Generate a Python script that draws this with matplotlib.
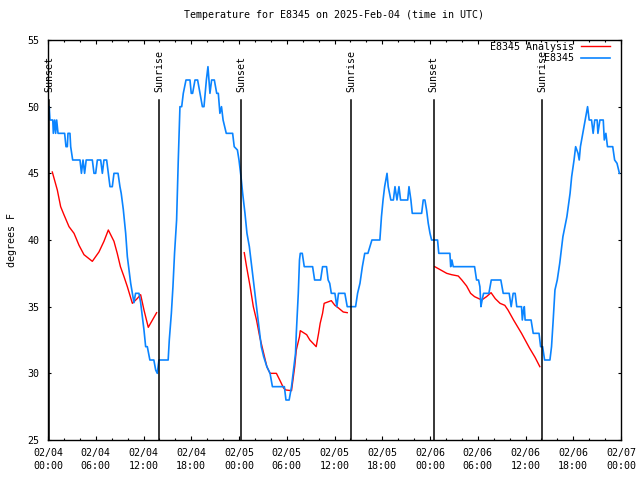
import numpy as np
import matplotlib
matplotlib.use("Agg")
import matplotlib.pyplot as plt
from matplotlib.ticker import MultipleLocator
import matplotlib.transforms as mtransforms

# ---- data (hours since 2025-02-04 00:00 UTC) ----
blue_hours = [0.0, 0.15, 0.25, 0.6, 0.67, 0.84, 0.96, 1.09, 1.26, 2.09, 2.26, 2.43, 2.51, 2.76, 2.85,
              3.1, 3.27, 4.02, 4.2, 4.4, 4.6, 4.8, 5.57, 5.78, 5.99, 6.2, 6.62, 6.83, 7.03, 7.37,
              7.58, 7.79, 8.08, 8.29, 8.8, 9.04, 9.2, 9.46, 9.76, 9.97, 10.18, 10.39, 10.6, 10.8,
              11.0, 11.43, 11.64, 11.85, 12.06, 12.27, 12.48, 12.8, 13.3, 13.53, 13.73, 13.94,
              15.1, 15.24, 15.5, 15.7, 15.9, 16.16, 16.37, 16.58, 16.8, 17.0, 17.34, 17.84, 18.0,
              18.17, 18.47, 18.8, 19.1, 19.4, 19.6, 19.9, 20.1, 20.35, 20.56, 20.9, 21.2, 21.4,
              21.6, 21.8, 22.0, 22.4, 23.2, 23.4, 23.8, 24.0, 24.25, 24.46, 24.75, 25.0, 25.3,
              25.6, 25.9, 26.2, 26.5, 26.8, 27.1, 27.5, 27.9, 28.2, 29.7, 29.9, 30.3, 30.6, 30.9,
              31.1, 31.2, 31.45, 31.6, 31.7, 31.95, 32.2, 33.25, 33.5, 34.25, 34.5, 35.0, 35.2,
              35.4, 35.6, 36.05, 36.3, 36.5, 37.3, 37.6, 38.65, 38.9, 39.2, 39.5, 39.8, 40.2,
              40.7, 41.7, 41.9, 42.1, 42.3, 42.6, 42.75, 43.08, 43.4, 43.6, 43.85, 44.1, 44.3,
              45.2, 45.36, 45.6, 45.77, 46.95, 47.15, 47.36, 47.57, 47.78, 48.0, 48.2, 48.95,
              49.1, 50.5, 50.6, 50.75, 50.92, 53.6, 53.85, 54.1, 54.27, 54.4, 54.55, 54.73, 55.4,
              55.7, 56.9, 57.2, 57.95, 58.2, 58.45, 58.7, 58.9, 59.5, 59.6, 59.75, 59.85, 59.95,
              60.7, 60.97, 61.7, 61.9, 62.15, 62.4, 63.07, 63.27, 63.48, 63.7, 63.99, 64.3, 64.7,
              65.2, 65.6, 65.8, 66.1, 66.3, 66.6, 66.75, 66.9, 67.2, 67.5, 67.8, 68.0, 68.3, 68.5,
              68.7, 69.0, 69.1, 69.35, 69.77, 69.9, 70.1, 70.3, 70.96, 71.2, 71.5, 71.8]
blue_vals = [50, 50, 49, 49, 48, 49, 48, 49, 48, 48, 47, 47, 48, 48, 47,
             46, 46, 46, 45, 46, 45, 46, 46, 45, 45, 46, 46, 45, 46, 46,
             45, 44, 44, 45, 45, 44, 43.5, 42.3, 40.5, 38.75, 37.75, 36.75, 36, 35.3,
             36, 36, 35.3, 34.25, 33.25, 32, 32, 31, 31, 30.25, 30, 31,
             31, 32.5, 34.5, 36.5, 39, 41.5, 46, 50, 50, 51, 52, 52, 51,
             51, 52, 52, 51, 50, 50, 52, 53, 51, 52, 52, 51, 51,
             49.5, 50, 49, 48, 48, 47, 46.75, 46, 44.75, 43.5, 42, 40.5, 39.5,
             38, 36.5, 35, 33.5, 32, 31.25, 30.5, 30, 29, 29, 28, 28, 29, 30.5,
             31.5, 33, 36, 38.5, 39, 39, 38, 38, 37, 37, 38, 38, 37,
             36.75, 36, 36, 35, 36, 36, 35, 35, 36, 36.75, 38, 39, 39,
             40, 40, 41.75, 43, 44, 45, 44, 43, 43, 44, 43, 44, 43,
             43, 44, 43, 42, 42, 43, 43, 42.25, 41.25, 40.5, 40, 40,
             39, 39, 38, 38.5, 38, 38, 37, 37, 36.5, 35, 35.5, 36, 36,
             37, 37, 36, 36, 35, 36, 36, 35, 35, 34, 34.75, 35, 34,
             34, 33, 33, 32, 32, 31, 31, 32, 34, 36.25, 37, 38.25, 40.25,
             41.75, 43.5, 44.75, 46, 47, 46.5, 46, 47, 48, 49, 50, 49, 49, 48,
             49, 49, 48, 49, 49, 47.5, 48, 47, 47, 46, 45.75, 45]

red_hours_1 = [0.54, 1.17, 1.59, 2.0, 2.64, 3.27, 3.9, 4.52, 4.94, 5.57, 6.4, 7.03, 7.58, 8.29,
               8.7, 9.1, 9.55, 9.97, 10.6, 11.2, 11.64, 12.06, 12.6, 13.65]
red_vals_1 = [45.1, 43.75, 42.5, 41.9, 41, 40.5, 39.6, 38.9, 38.7, 38.4, 39.1, 39.9, 40.75, 39.9,
              39.0, 38, 37.25, 36.5, 35.25, 35.6, 35.9, 34.75, 33.45, 34.55]
red_hours_2 = [24.66, 24.95, 25.4, 25.8, 26.2, 26.6, 27.0, 27.5, 27.9, 28.7, 29.2, 29.6, 29.9,
               30.6, 31.0, 31.2, 31.6, 31.7, 32.5, 32.9, 33.7, 34.0, 34.2, 34.5, 34.7, 35.6,
               36.05, 36.5, 37.1, 37.6]
red_vals_2 = [39.05, 38, 36.5, 35, 34, 32.75, 31.75, 30.5, 30, 30, 29.4, 28.9, 28.75,
              28.7, 30.5, 31.75, 32.75, 33.2, 32.9, 32.5, 32, 33, 33.75, 34.5, 35.25, 35.45,
              35.1, 34.9, 34.6, 34.55]
red_hours_3 = [48.6, 49.5, 50.1, 50.7, 51.55, 52.0, 52.6, 53.1, 53.6, 54.5, 55.1, 55.67, 56.2,
               56.8, 57.4, 57.8, 58.5, 59.5, 60.5, 61.2, 61.8]
red_vals_3 = [38, 37.7, 37.5, 37.4, 37.3, 37, 36.55, 36, 35.75, 35.5, 35.75, 36.05, 35.6,
              35.25, 35.1, 34.75, 34.0, 33.0, 31.9, 31.2, 30.5]

sunset_hours = [0.17, 24.3, 48.45]
sunrise_hours = [14.0, 38.1, 62.1]

xtick_labels = ["02/04\n00:00", "02/04\n06:00", "02/04\n12:00", "02/04\n18:00",
                "02/05\n00:00", "02/05\n06:00", "02/05\n12:00", "02/05\n18:00",
                "02/06\n00:00", "02/06\n06:00", "02/06\n12:00", "02/06\n18:00",
                "02/07\n00:00"]
ytick_vals = [25, 30, 35, 40, 45, 50, 55]

title = "Temperature for E8345 on 2025-Feb-04 (time in UTC)"
ylabel = "degrees F"
label_red = "E8345 Analysis"
label_blue = "E8345"

# ---- style ----
FONT = "DejaVu Sans Mono"
FS = 7.2
plt.rcParams['font.family'] = [FONT]
plt.rcParams['font.size'] = FS

fig = plt.figure(figsize=(6.4, 4.8), dpi=100)
ax = fig.add_axes([48/640, 40/480, 573/640, 400/480])

red_c = "#ff0000"
blue_c = "#0a84ff"

lr, = ax.plot(red_hours_1, red_vals_1, color=red_c, lw=1.0, label=label_red)
ax.plot(red_hours_2, red_vals_2, color=red_c, lw=1.0)
ax.plot(red_hours_3, red_vals_3, color=red_c, lw=1.0)
lb, = ax.plot(blue_hours, blue_vals, color=blue_c, lw=1.2, label=label_blue)

trans = mtransforms.blended_transform_factory(ax.transData, ax.transAxes)
for h in sunset_hours:
    ax.plot([h, h], [0, 0.85], color="black", lw=1.1, transform=trans)
    ax.text(h, 0.87, "Sunset", rotation=90, ha="center", va="bottom", transform=trans, fontsize=FS)
for h in sunrise_hours:
    ax.plot([h, h], [0, 0.85], color="black", lw=1.1, transform=trans)
    ax.text(h, 0.87, "Sunrise", rotation=90, ha="center", va="bottom", transform=trans, fontsize=FS)

ax.set_xlim(0, 72)
ax.set_ylim(25, 55)
ax.set_xticks(np.arange(0, 73, 6))
ax.set_xticklabels(xtick_labels)
for t in ax.get_xticklabels():
    t.set_linespacing(1.3)
ax.xaxis.set_minor_locator(MultipleLocator(2))
ax.set_yticks(ytick_vals)
ax.tick_params(axis="both", which="both", direction="in", top=True, right=True, labelsize=FS)
ax.tick_params(axis="x", which="major", length=3.0, width=0.8, pad=6)
ax.tick_params(axis="x", which="minor", length=1.5, width=0.8)
ax.tick_params(axis="y", which="major", length=2.5, width=0.8, pad=6)
for s in ax.spines.values():
    s.set_linewidth(1.0)

ax.set_title(title, fontsize=FS, pad=16)
ax.set_ylabel(ylabel, fontsize=FS, labelpad=8)

leg = ax.legend(handles=[lr, lb], loc="upper right", bbox_to_anchor=(0.981, 0.995),
                markerfirst=False, frameon=False, fontsize=FS, handlelength=2.9,
                handletextpad=0.7, labelspacing=0.15, borderpad=0, borderaxespad=0)

fig.savefig("out.png", dpi=100)
